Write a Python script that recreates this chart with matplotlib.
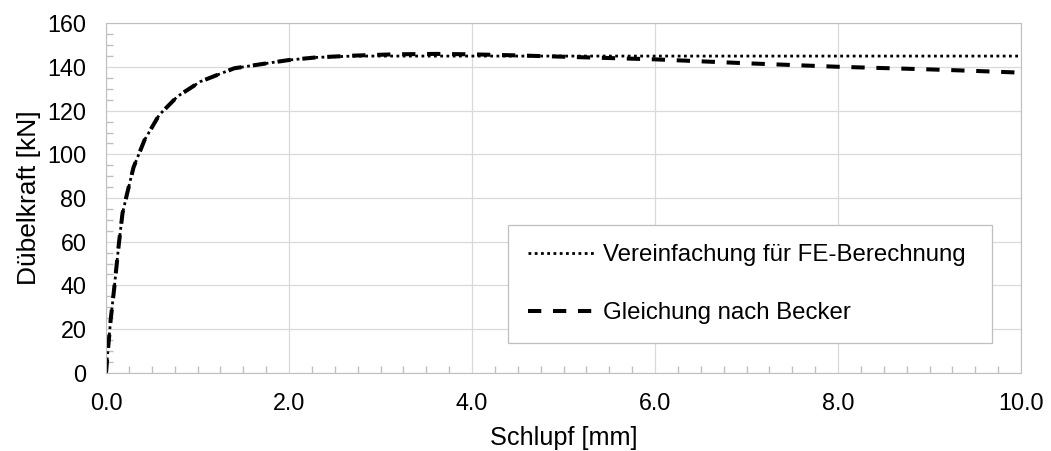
import matplotlib.pyplot as plt
from matplotlib.ticker import MultipleLocator, FormatStrFormatter

plt.rcParams['font.family'] = ['Liberation Sans', 'DejaVu Sans']

# Schlupf [mm] und Dübelkraft [kN]
s_becker = [0, 0.02, 0.05, 0.09, 0.14, 0.18, 0.23, 0.3, 0.42, 0.58, 0.78, 1.03,
            1.4, 1.76, 2.0, 2.3, 2.7, 3.15, 3.6, 4.0, 4.5, 5.0, 5.5, 6.0, 6.5,
            7.0, 7.5, 8.0, 8.5, 9.0, 9.5, 10.0]
F_becker = [0, 10, 24, 39, 59, 73, 82, 94, 106.5, 118, 126.5, 133.3,
            139.4, 141.7, 143.2, 144.4, 145.2, 145.8, 146.0, 145.8, 145.3, 144.7, 144.1, 143.5, 142.6,
            141.7, 140.9, 140.1, 139.5, 138.9, 138.2, 137.4]

s_fe = [0, 0.02, 0.05, 0.09, 0.14, 0.18, 0.23, 0.3, 0.42, 0.58, 0.78, 1.03,
        1.4, 1.76, 2.0, 2.3, 2.7, 3.0, 10.0]
F_fe = [0, 10, 24, 39, 59, 73, 82, 94, 106.5, 118, 126.5, 133.3,
        139.4, 141.7, 143.2, 144.4, 145.0, 145.0, 145.0]

labels = ['Vereinfachung für FE-Berechnung', 'Gleichung nach Becker']

fig = plt.figure(figsize=(10.51, 4.51), dpi=100)
ax = fig.add_axes([0.1009, 0.1736, 0.8706, 0.7747])

ax.plot(s_fe, F_fe, color='black', lw=2.0, linestyle=(0, (1.0, 1.25)), label=labels[0])
ax.plot(s_becker, F_becker, color='black', lw=2.9, linestyle=(0, (3.3, 2.9)), label=labels[1])

ax.set_xlim(0, 10)
ax.set_ylim(0, 160)
ax.xaxis.set_major_locator(MultipleLocator(2))
ax.xaxis.set_minor_locator(MultipleLocator(0.25))
ax.yaxis.set_major_locator(MultipleLocator(20))
ax.yaxis.set_minor_locator(MultipleLocator(5))
ax.xaxis.set_major_formatter(FormatStrFormatter('%.1f'))

ax.grid(True, which='major', color='#d9d9d9', lw=0.9)
for sp in ax.spines.values():
    sp.set_color('#bfbfbf')
ax.tick_params(which='major', length=0, labelsize=16.8, colors='#bfbfbf', labelcolor='black')
ax.tick_params(which='minor', direction='in', length=5, color='#bfbfbf', width=1)
ax.tick_params(axis='y', which='major', pad=14)
ax.tick_params(axis='x', which='major', pad=14)

ax.set_xlabel('Schlupf [mm]', fontsize=18.2, va='baseline')
ax.set_ylabel('Dübelkraft [kN]', fontsize=19, va='baseline')
ax.xaxis.set_label_coords(0.5, -0.207)
ax.yaxis.set_label_coords(-0.077, 0.5)

leg = ax.legend(loc='lower left', bbox_to_anchor=(0.4397, 0.0841, 0.5283, 0.3435),
                mode='expand', fontsize=17.3,
                frameon=True, fancybox=False, edgecolor='#bfbfbf', framealpha=1,
                labelspacing=1.5, handlelength=2.83, handletextpad=0.29,
                borderpad=0.8, borderaxespad=0)
leg.get_frame().set_linewidth(0.9)

fig.savefig('out.png', dpi=100)
